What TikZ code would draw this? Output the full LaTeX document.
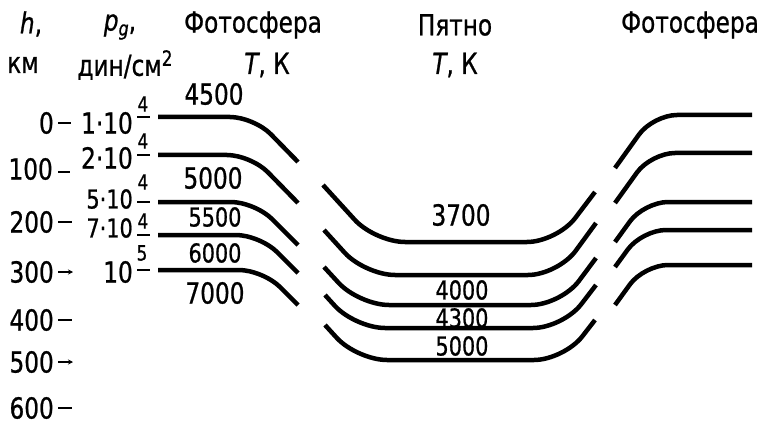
\documentclass[tikz,border=0pt]{standalone}
\usepackage{fontspec}
\setmainfont{DejaVu Sans}[FakeStretch=0.8,FakeBold=0.8]
\usetikzlibrary{arrows.meta}
\begin{document}
\begin{tikzpicture}[x=1pt,y=-1pt,
  lbl/.style={font=\fontsize{29}{31}\selectfont, inner sep=0pt},
  lbls/.style={font=\fontsize{26}{28}\selectfont, inner sep=0pt},
  supl/.style={font=\fontsize{21}{23}\selectfont, inner sep=0pt},
  iso/.style={line width=4.5pt, rounded corners=24pt},
  isospot/.style={line width=4.5pt, rounded corners=30pt},
  tickmark/.style={line width=2pt},
  tickarrow/.style={line width=2pt,-{Stealth[length=5pt,width=5pt]}}]
\useasboundingbox (0,0) rectangle (771,425);

% headers
\node[lbl] (hh) at (31,24) {\textit{h},};
\node[lbl] (km) at (23,65) {км};
\node[lbl] (pg) at (120,27) {\textit{p}\raisebox{-5pt}{\fontsize{20}{20}\selectfont\textit{g}},};
\node[lbl] (dyn) at (125,65) {дин/см\raisebox{10pt}{\fontsize{21}{21}\selectfont 2}};
\node[lbl] (ph1) at (253,25) {Фотосфера};
\node[lbl] (tk1) at (267,65) {\textit{T}, К};
\node[lbl] (spot) at (455,25) {Пятно};
\node[lbl] (tk2) at (455,65) {\textit{T}, К};
\node[lbl] (ph2) at (690,25) {Фотосфера};

% heights
\node[lbl,anchor=east] (h0) at (54,123) {0};
\node[lbl,anchor=east] (h1) at (53,169) {100};
\node[lbl,anchor=east] (h2) at (54,222) {200};
\node[lbl,anchor=east] (h3) at (54,272) {300};
\node[lbl,anchor=east] (h4) at (54,320) {400};
\node[lbl,anchor=east] (h5) at (54,362) {500};
\node[lbl,anchor=east] (h6) at (54,408) {600};
\draw[tickmark] (58,123) -- (71,123);
\draw[tickmark] (58,172) -- (70,172);
\draw[tickmark] (58,222) -- (72,222);
\draw[tickarrow] (58,272) -- (73,272);
\draw[tickmark] (58,320) -- (72,320);
\draw[tickarrow] (58,362) -- (73,362);
\draw[tickmark] (58,408) -- (72,408);

% pressures
\node[lbl,anchor=east] (p1) at (133,123) {1·10};
\node[supl] (p1s) at (143,104) {4};
\node[lbl,anchor=east] (p2) at (133,158) {2·10};
\node[supl] (p2s) at (143,141) {4};
\node[lbls,anchor=east] (p3) at (133,199) {5·10};
\node[supl] (p3s) at (143,182) {4};
\node[lbls,anchor=east] (p4) at (133,228) {7·10};
\node[supl] (p4s) at (143,221) {4};
\node[lbl,anchor=east] (p5) at (133,272) {10};
\node[supl] (p5s) at (142,253) {5};
\draw[tickmark] (137,117) -- (150,117);
\draw[tickmark] (137,155) -- (150,155);
\draw[tickmark] (137,202) -- (150,202);
\draw[tickmark] (137,235) -- (150,235);
\draw[tickmark] (137,270) -- (150,270);

% photosphere temperatures (left)
\node[lbl] (t45) at (214,94) {4500};
\node[lbl] (t50) at (213,178) {5000};
\node[lbls] (t55) at (215,217) {5500};
\node[lbls] (t60) at (215,253) {6000};
\node[lbl] (t70) at (215,293) {7000};

% spot temperatures
\node[lbl] (s37) at (461,215) {3700};
\node[lbls] (s40) at (462,290) {4000};
\node[lbls] (s43) at (462,318) {4300};
\node[lbls] (s50) at (462,346) {5000};

% left photosphere isolines
\draw[iso] (158,117) -- (254,117) -- (298,162);
\draw[iso] (158,155) -- (251,155) -- (298,203);
\draw[iso] (158,202) -- (255,202) -- (298,245);
\draw[iso] (158,235) -- (260,235) -- (298,273);
\draw[iso] (158,270) -- (263,270) -- (298,305);

% spot isolines
\draw[isospot] (323,185) -- (375,242) -- (557,242) -- (595,192);
\draw[isospot] (324,230) -- (365,275) -- (558,275) -- (596,223);
\draw[isospot] (324,267) -- (359,305) -- (561,305) -- (596,258);
\draw[isospot] (325,295) -- (355,328) -- (563,328) -- (596,285);
\draw[isospot] (325,325) -- (357,360) -- (564,360) -- (595,320);

% right photosphere isolines
\draw[iso] (615,168) -- (653,115) -- (752,115);
\draw[iso] (615,203) -- (651,153) -- (752,153);
\draw[iso] (615,242) -- (644,202) -- (752,202);
\draw[iso] (615,267) -- (642,230) -- (752,230);
\draw[iso] (615,305) -- (644,265) -- (752,265);
\end{tikzpicture}
\end{document}
